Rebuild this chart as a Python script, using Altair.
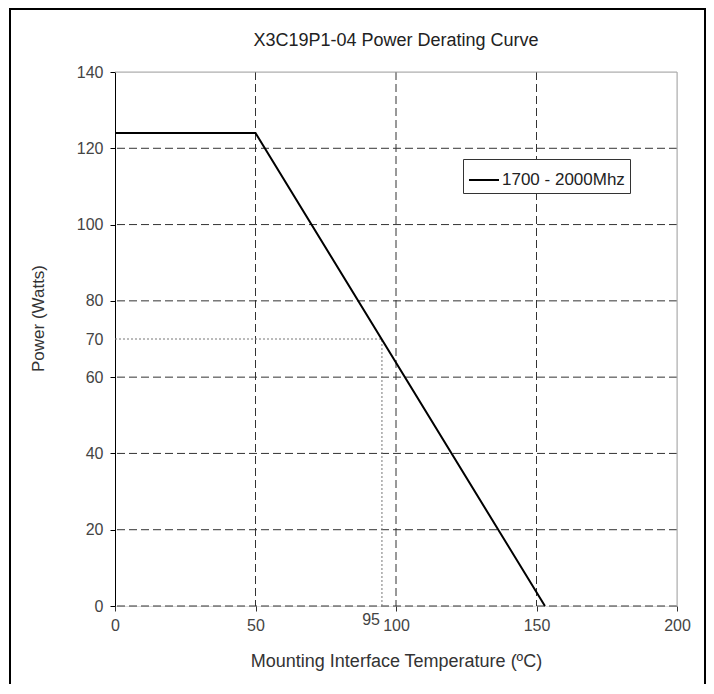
import altair as alt
import pandas as pd

# ---- data ----
temp = [0, 50, 153]
power = [124, 124, 0]
series_name = "1700 - 2000Mhz"

x_grid = [50, 100, 150]
y_grid = [0, 20, 40, 60, 80, 100, 120]
x_ticks = [0, 50, 100, 150, 200]
y_ticks = [0, 20, 40, 60, 70, 80, 100, 120, 140]
ref_temp = [95]
ref_power = [70]
x_max = [200]
y_max = [140]

FONT = "Liberation Sans"

curve = pd.DataFrame({"temp": temp, "power": power, "series": [series_name] * len(temp)})
vgrid = pd.DataFrame({"temp": x_grid})
hgrid = pd.DataFrame({"power": y_grid})
top_border = pd.DataFrame({"power": y_max})
right_border = pd.DataFrame({"temp": x_max})
dot_h = pd.DataFrame({"temp": [0], "temp2": ref_temp, "power": ref_power})
dot_v = pd.DataFrame({"temp": ref_temp, "power": [0], "power2": ref_power})
lbl95 = pd.DataFrame({"temp": ref_temp, "power": [0], "txt": [str(v) for v in ref_temp]})
dummy = pd.DataFrame({"a": [0]})

xs = alt.Scale(domain=[0, 200], nice=False, zero=False)
ys = alt.Scale(domain=[0, 140], nice=False, zero=False)

x_axis = alt.Axis(
    values=x_ticks, grid=False, domain=False, tickSize=5, tickColor="#333",
    labelPadding=6, labelFontSize=16, labelColor="#444", labelFont=FONT,
    labelFlush=False,
    title="Mounting Interface Temperature (ºC)", titleFont=FONT, titleFontSize=18,
    titleFontWeight="normal", titleColor="#333", titleY=55, titleBaseline="middle",
)
y_axis = alt.Axis(
    values=y_ticks, grid=False, domain=True, domainColor="black", tickSize=5,
    tickColor=alt.condition("datum.value == 70", alt.value("transparent"), alt.value("black")),
    labelPadding=7, labelFontSize=16, labelColor="#444", labelFlush=False,
    labelFont=FONT, title="Power (Watts)", titleFont=FONT, titleFontSize=17,
    titleFontWeight="normal", titleColor="#333", titleX=-77, titleY=246,
    titleAlign="center", titleBaseline="middle",
)

X = lambda f="temp": alt.X(f + ":Q", scale=xs, axis=x_axis)
Y = lambda f="power": alt.Y(f + ":Q", scale=ys, axis=y_axis)

grid_style = dict(color="#333", strokeWidth=1, strokeDash=[8, 4])

vg = alt.Chart(vgrid).mark_rule(**grid_style).encode(x=X())
hg = alt.Chart(hgrid).mark_rule(**grid_style).encode(y=Y())
tb = alt.Chart(top_border).mark_rule(color="#aaa", strokeWidth=1).encode(y=Y())
rb = alt.Chart(right_border).mark_rule(color="#aaa", strokeWidth=1).encode(x=X())

dh = alt.Chart(dot_h).mark_rule(color="#777", strokeWidth=1, strokeDash=[2, 2]).encode(
    x=X(), x2="temp2:Q", y=Y())
dv = alt.Chart(dot_v).mark_rule(color="#777", strokeWidth=1, strokeDash=[2, 2]).encode(
    x=X(), y=Y(), y2="power2:Q")

t95 = alt.Chart(lbl95).mark_text(
    align="right", baseline="top", dy=6, dx=-2, fontSize=16, color="#444", font=FONT
).encode(x=X(), y=Y(), text="txt:N")

line = alt.Chart(curve).mark_line(strokeWidth=2).encode(
    x=X(), y=Y(),
    color=alt.Color(
        "series:N",
        scale=alt.Scale(range=["black"]),
        legend=alt.Legend(
            title=None, orient="none", legendX=348, legendY=87,
            symbolType="stroke", symbolStrokeWidth=2, symbolSize=900,
            symbolStrokeColor="black",
            labelFontSize=17, labelFont=FONT, labelColor="#222", labelOffset=2,
            padding=5, strokeColor="#333", fillColor="white",
            labelExpr="datum.label + '\u00a0\u00a0'",
        ),
    ),
)

frame_style = dict(color="black", strokeWidth=2)
f_top = alt.Chart(dummy).mark_rule(**frame_style).encode(
    x=alt.value(-106), x2=alt.value(592), y=alt.value(-63))
f_left = alt.Chart(dummy).mark_rule(**frame_style).encode(
    x=alt.value(-105), y=alt.value(-64), y2=alt.value(640))
f_right = alt.Chart(dummy).mark_rule(**frame_style).encode(
    x=alt.value(590), y=alt.value(-64), y2=alt.value(640))

chart = alt.layer(vg, hg, tb, rb, dh, dv, t95, line, f_top, f_left, f_right).properties(
    width=562,
    height=534,
    autosize="none",
    padding={"left": 107, "top": 64, "right": 29, "bottom": 78},
    title=alt.TitleParams(
        "X3C19P1-04 Power Derating Curve", font=FONT, fontSize=18,
        fontWeight="normal", color="#222", offset=0, dy=57, baseline="alphabetic",
    ),
).configure_view(stroke=None).configure(background="white")

chart.save("out.html", embed_options={"renderer": "svg", "actions": False})
